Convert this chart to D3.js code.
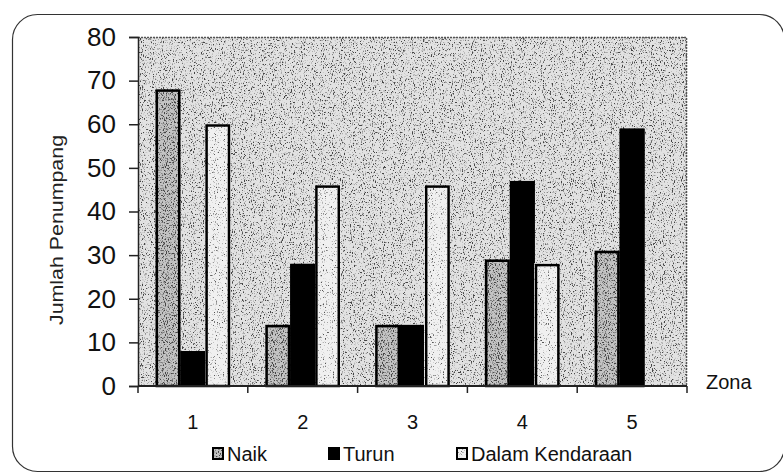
<!DOCTYPE html>
<html>
<head>
<meta charset="utf-8">
<script src="https://cdn.jsdelivr.net/npm/d3@7"></script>
<style>
  body { margin: 0; background: #fff; }
  text { font-family: "Liberation Sans", Arial, sans-serif; fill: #111; }
</style>
</head>
<body>
<div class="canvas"></div>
<script>
// data
const zones = ["1", "2", "3", "4", "5"];
const naik = [68, 14, 14, 29, 31];
const turun = [8, 28, 14, 47, 59];
const dalam = [60, 46, 46, 28, 0];
const seriesNames = ["Naik", "Turun", "Dalam Kendaraan"];
const yTicks = [0, 10, 20, 30, 40, 50, 60, 70, 80];

const width = 783, height = 475;
const margin = {top: 37, right: 96, bottom: 89, left: 138};
const graphWidth = width - margin.left - margin.right;
const graphHeight = height - margin.top - margin.bottom;

const svg = d3.select(".canvas").append("svg")
    .attr("width", width)
    .attr("height", height);

// speckled fills to mimic the scanned dither
const defs = svg.append("defs");
function noiseFilter(id, lo, hi, seed, cut) {
  const f = defs.append("filter").attr("id", id)
      .attr("x", 0).attr("y", 0).attr("width", 1).attr("height", 1);
  f.append("feTurbulence").attr("type", "fractalNoise")
      .attr("baseFrequency", "1.1 0.6").attr("numOctaves", 2).attr("seed", seed).attr("result", "n");
  f.append("feColorMatrix").attr("type", "matrix")
      .attr("values", `0 0 0 0 0  0 0 0 0 0  0 0 0 0 0  6 0 0 0 ${cut}`).attr("in", "n").attr("result", "a");
  f.append("feFlood").attr("flood-color", lo).attr("result", "dark");
  f.append("feComposite").attr("in", "dark").attr("in2", "a").attr("operator", "in").attr("result", "dots");
  f.append("feFlood").attr("flood-color", hi).attr("result", "base");
  const m = f.append("feMerge");
  m.append("feMergeNode").attr("in", "base");
  m.append("feMergeNode").attr("in", "dots");
}
noiseFilter("bgNoise", "#444", "#e2e2e2", 3, -3.3);
noiseFilter("naikNoise", "#444", "#c4c4c4", 7, -3.0);
noiseFilter("dalamNoise", "#555", "#f0f0f0", 11, -3.6);

// outer rounded frame
svg.append("rect")
    .attr("x", 12.5).attr("y", 14.5)
    .attr("width", 772).attr("height", 457)
    .attr("rx", 25)
    .attr("fill", "none")
    .attr("stroke", "#333")
    .attr("stroke-width", 1.2);

const graph = svg.append("g")
    .attr("transform", `translate(${margin.left}, ${margin.top})`);

const x0 = d3.scaleBand().domain(zones).range([0, graphWidth]).paddingInner(0.32).paddingOuter(0.16);
const x1 = d3.scaleBand().domain(seriesNames).range([0, x0.bandwidth()]);
const y = d3.scaleLinear().domain([0, 80]).range([graphHeight, 0]);

// plot background
graph.append("rect")
    .attr("width", graphWidth).attr("height", graphHeight)
    .attr("fill", "#cccccc")
    .attr("filter", "url(#bgNoise)");
graph.append("path")
    .attr("d", `M0,0.5H${graphWidth - 0.5}V${graphHeight}`)
    .attr("fill", "none")
    .attr("stroke", "#555")
    .attr("stroke-width", 1.5)
    .attr("stroke-dasharray", "2,1");

// bars
const rows = zones.map((z, i) => ({zone: z, values: [naik[i], turun[i], dalam[i]]}));
const fills = ["#b8b8b8", "#000", "#e6e6e6"];
const filters = ["url(#naikNoise)", null, "url(#dalamNoise)"];

const groups = graph.selectAll("g.zone")
    .data(rows)
    .enter()
    .append("g")
    .attr("class", "zone")
    .attr("transform", d => `translate(${x0(d.zone)}, 0)`);

groups.selectAll("g.bar")
    .data(d => d.values.map((v, k) => ({k, v})).filter(b => b.v > 0))
    .enter()
    .append("g")
    .attr("class", "bar")
    .each(function(b) {
      const g = d3.select(this);
      const bx = x1(seriesNames[b.k]), bw = x1.bandwidth();
      g.append("rect")
          .attr("x", bx).attr("y", y(b.v))
          .attr("width", bw).attr("height", graphHeight - y(b.v))
          .attr("fill", fills[b.k])
          .attr("filter", filters[b.k]);
      g.append("rect")
          .attr("x", bx + 1.25).attr("y", y(b.v) + 1.25)
          .attr("width", bw - 2.5).attr("height", graphHeight - y(b.v) - 1.25)
          .attr("fill", "none")
          .attr("stroke", "#000")
          .attr("stroke-width", 2.5);
    });

// y axis
const yAxis = d3.axisLeft(y).tickValues(yTicks).tickSize(9).tickPadding(13);
const yAxisGroup = graph.append("g").call(yAxis);
yAxisGroup.select(".domain").attr("stroke", "#222").attr("stroke-width", 1.5);
yAxisGroup.selectAll(".tick line").attr("stroke", "#222").attr("stroke-width", 1.5);
yAxisGroup.selectAll(".tick text")
    .style("font-size", "26px")
    .attr("fill", "#111");

// x axis: ticks between categories
const xAxisGroup = graph.append("g")
    .attr("transform", `translate(0, ${graphHeight})`);
xAxisGroup.append("line")
    .attr("x1", 0).attr("x2", graphWidth)
    .attr("stroke", "#222").attr("stroke-width", 2);
const step = graphWidth / zones.length;
xAxisGroup.selectAll("line.tk")
    .data(d3.range(zones.length + 1))
    .enter()
    .append("line")
    .attr("class", "tk")
    .attr("x1", i => i * step).attr("x2", i => i * step)
    .attr("y1", 0).attr("y2", 7)
    .attr("stroke", "#222").attr("stroke-width", 1.5);
xAxisGroup.selectAll("text")
    .data(zones)
    .enter()
    .append("text")
    .attr("x", d => x0(d) + x0.bandwidth() / 2)
    .attr("y", 43)
    .attr("text-anchor", "middle")
    .style("font-size", "20px")
    .text(d => d);

// axis titles
svg.append("text")
    .attr("transform", "translate(63, 230) rotate(-90)")
    .attr("text-anchor", "middle")
    .attr("textLength", 190)
    .attr("lengthAdjust", "spacingAndGlyphs")
    .style("font-size", "19px")
    .style("fill", "#222")
    .text("Jumlah Penumpang");
svg.append("text")
    .attr("x", 706).attr("y", 389)
    .style("font-size", "20px")
    .text("Zona");

// legend
const legendX = [212, 328, 456];
const legend = svg.selectAll("g.legend")
    .data(seriesNames)
    .enter()
    .append("g")
    .attr("class", "legend")
    .attr("transform", (d, i) => `translate(${legendX[i]}, 447)`);
legend.append("rect")
    .attr("width", 12).attr("height", 13)
    .attr("fill", (d, i) => fills[i])
    .attr("filter", (d, i) => filters[i]);
legend.append("rect")
    .attr("x", 1).attr("y", 1)
    .attr("width", 10).attr("height", 11)
    .attr("fill", "none")
    .attr("stroke", "#000")
    .attr("stroke-width", 2);
legend.append("text")
    .attr("x", 15).attr("y", 14)
    .style("font-size", "20px")
    .text(d => d);
</script>
</body>
</html>
